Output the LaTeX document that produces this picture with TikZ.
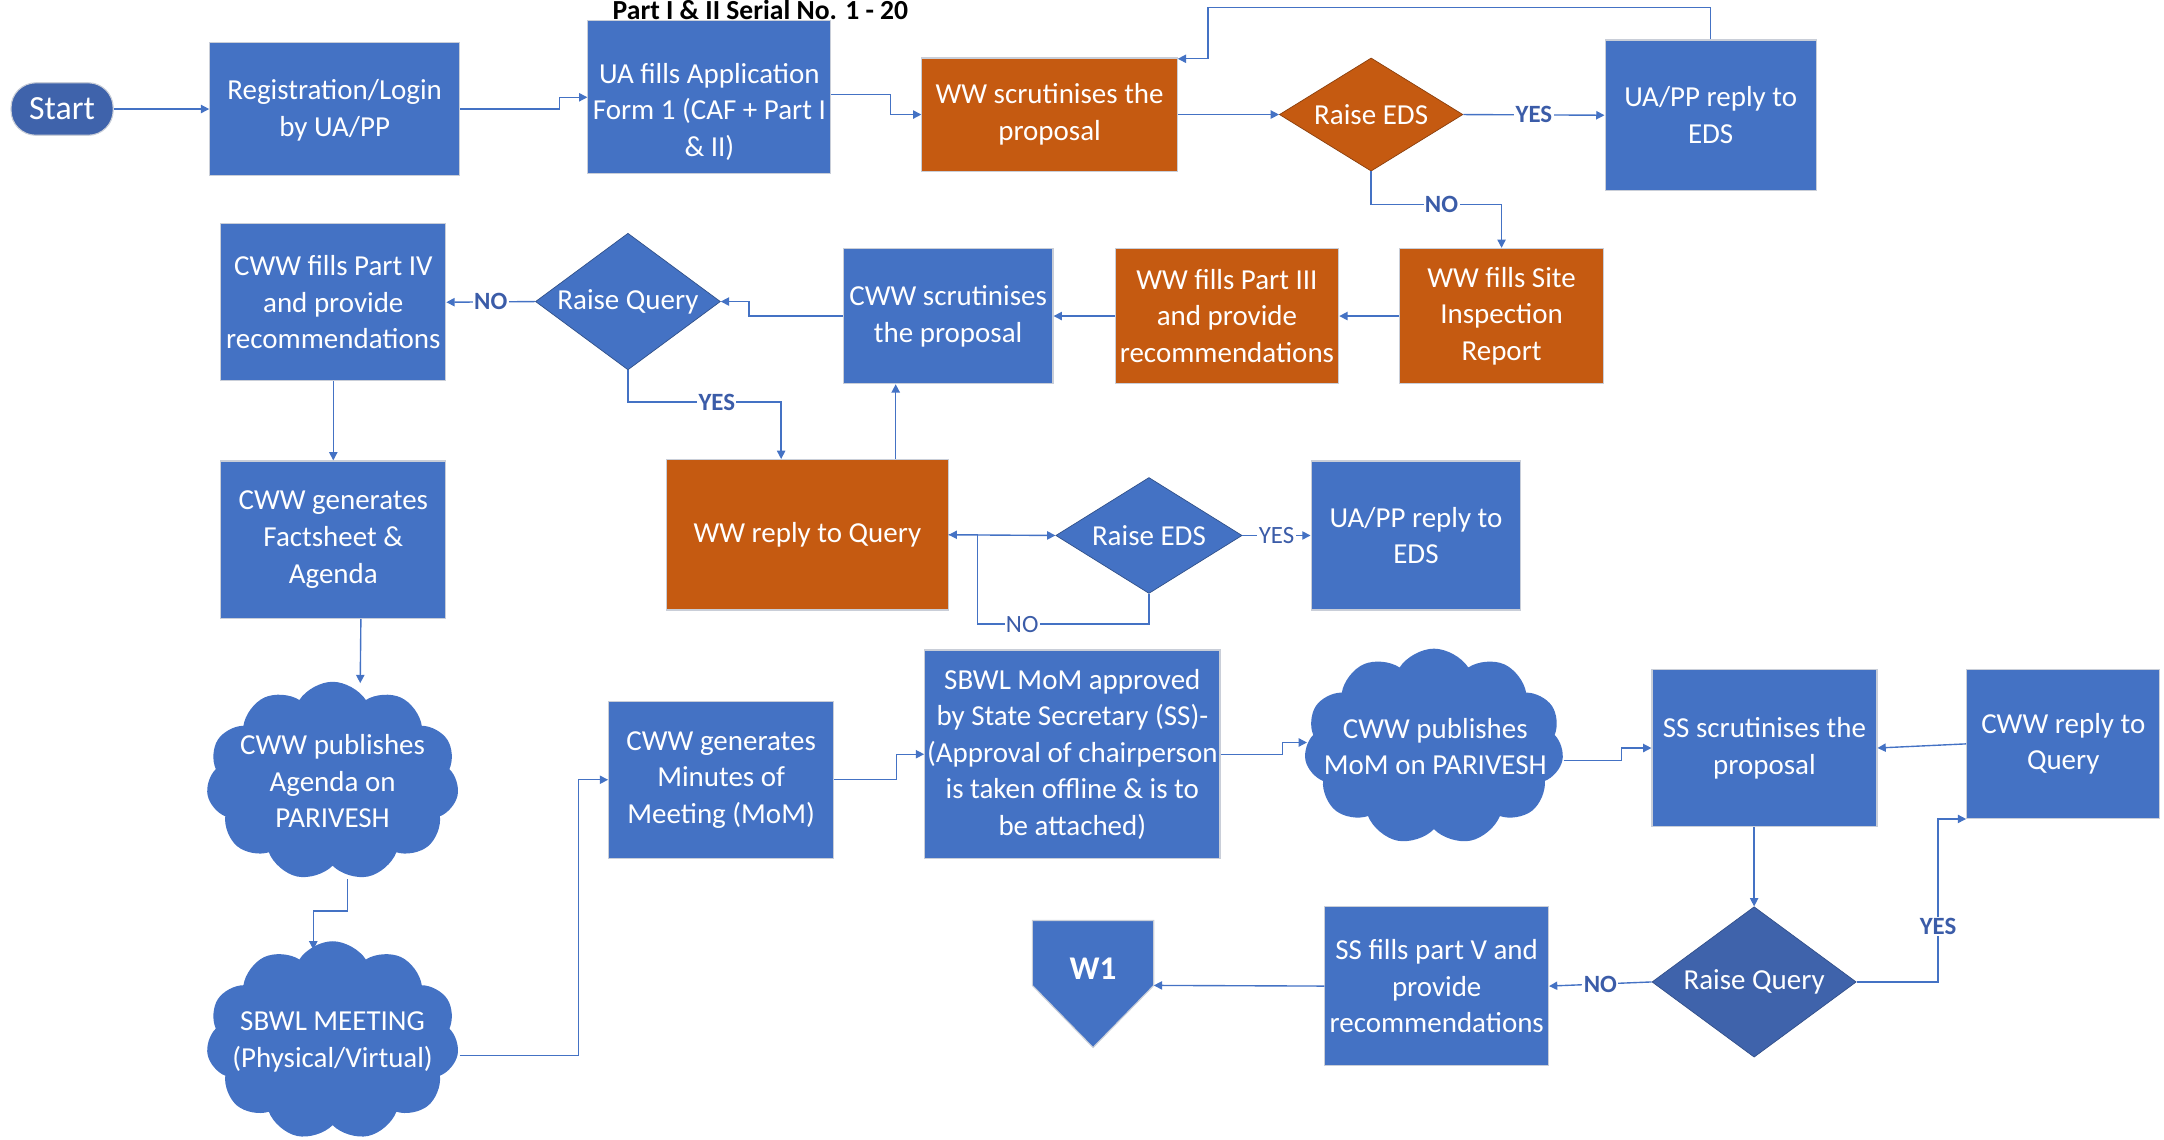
\documentclass[tikz,border=0pt]{standalone}
\usepackage{fontspec}
\setmainfont{Carlito}
\usetikzlibrary{shapes.geometric,shapes.symbols,arrows.meta,calc}
\definecolor{cblue}{HTML}{4472C4}
\definecolor{corange}{HTML}{C55A11}
\definecolor{cdark}{HTML}{3F63AB}
\definecolor{clab}{HTML}{3B5CA8}
\definecolor{cedge}{HTML}{C9CED8}
\begin{document}
\begin{tikzpicture}[x=1pt,y=-1pt,
 every node/.style={font=\fontsize{21}{26.5}\selectfont, text=white, align=center},
 bx/.style={rectangle, fill=cblue, draw=cedge, line width=0.8pt, inner sep=0pt},
 ob/.style={bx, fill=corange},
 dm/.style={diamond, fill=cblue, draw=cblue!70!black, line width=0.5pt, inner sep=0pt},
 od/.style={dm, fill=corange, draw=corange!70!black},
 cl/.style={cloud, cloud puffs=11, cloud puff arc=115, fill=cblue, draw=none, inner sep=0pt},
 arr/.style={draw=cblue, line width=1pt, -{Triangle[length=6pt,width=6pt]}},
 lb/.style={fill=white, text=clab, font=\fontsize{18}{20}\selectfont\bfseries, inner sep=1pt},
 lr/.style={fill=white, text=clab, font=\fontsize{18}{20}\selectfont, inner sep=1pt},
]
\useasboundingbox (0,0) rectangle (1568,826);

% title
\node[text=black, font=\fontsize{20}{24}\selectfont\bfseries, anchor=base] (ptitle) at (551,14) {Part I \& II Serial No. 1 - 20};

% row 1
\node[bx, fill=cdark, rounded corners=18pt, minimum width=74, minimum height=38, font=\fontsize{24.5}{28}\selectfont] (start) at (45,79) {Start};
\node[bx, minimum width=181, minimum height=96] (reg) at (242.5,79) {};
\node (regt) at (242.5,80) {Registration/Login\\by UA/PP};
\node[bx, minimum width=176, minimum height=111] (ua) at (514,70.5) {};
\node (uat) at (514,81) {UA fills Application\\Form 1 (CAF + Part I\\\& II)};
\node[ob, minimum width=185, minimum height=82] (ww) at (760.5,83) {WW scrutinises the\\proposal};
\node[od, minimum width=133, minimum height=82, aspect=1.6] (eds1) at (993.5,83) {Raise EDS};
\node[bx, minimum width=153, minimum height=109] (uapp1) at (1239.5,83.5) {UA/PP reply to\\EDS};

% row 2
\node[ob, minimum width=148, minimum height=98] (site) at (1088,229) {WW fills Site\\Inspection\\Report};
\node[ob, minimum width=162, minimum height=98] (p3) at (889,229) {WW fills Part III\\and provide\\recommendations};
\node[bx, minimum width=152, minimum height=98] (cwws) at (687,229) {CWW scrutinises\\the proposal};
\node[dm, minimum width=134, minimum height=99, aspect=1.35] (rq1) at (455,218.5) {Raise Query};
\node[bx, minimum width=163, minimum height=114] (p4) at (241.5,219) {CWW fills Part IV\\and provide\\recommendations};

% row 3
\node[ob, minimum width=204, minimum height=109] (wwr) at (585,387.5) {WW reply to Query};
\node[dm, minimum width=135, minimum height=84, aspect=1.6] (eds2) at (832.5,388) {Raise EDS};
\node[bx, minimum width=152, minimum height=108] (uapp2) at (1026,388) {UA/PP reply to\\EDS};
\node[bx, minimum width=163, minimum height=114] (fact) at (241.5,391) {CWW generates\\Factsheet \&\\Agenda};

% clouds
\node[cl, minimum width=183, minimum height=144] (c1) at (241,566) {};
\node (c1t) at (241,566) {CWW publishes\\Agenda on\\PARIVESH};
\node[cl, minimum width=183, minimum height=144] (c2) at (241,754) {};
\node (c2t) at (241,755) {SBWL MEETING\\(Physical/Virtual)};
\node[cl, minimum width=188, minimum height=142] (c3) at (1039,541) {};
\node (c3t) at (1040,541) {CWW publishes\\MoM on PARIVESH};

% row 4
\node[bx, minimum width=163, minimum height=114] (mom) at (522.5,565) {CWW generates\\Minutes of\\Meeting (MoM)};
\node[bx, minimum width=214, minimum height=151] (sbwl) at (777,546.5) {SBWL MoM approved\\by State Secretary (SS)-\\(Approval of chairperson\\is taken offline \& is to\\be attached)};
\node[bx, minimum width=163, minimum height=114] (ssscr) at (1278.5,542) {SS scrutinises the\\proposal};
\node[bx, minimum width=140, minimum height=108] (cwwr) at (1495,539) {CWW reply to\\Query};

% row 5
\node[dm, fill=cdark, draw=cdark!80!black, minimum width=148, minimum height=109, aspect=1.36] (rq2) at (1271,711.5) {Raise Query};
\node[bx, minimum width=162, minimum height=115] (ssf) at (1041,714.5) {SS fills part V and\\provide\\recommendations};
\filldraw[fill=cblue, draw=cedge, line width=0.8pt] (748,667) -- (836,667) -- (836,714) -- (792,759) -- (748,714) -- cycle;
\node[font=\fontsize{24}{26}\selectfont\bfseries] (w1) at (792,702) {W1};
\coordinate (w1in) at (836,714);

% connectors
\draw[arr] (start.east) -- (reg.west);
\draw[arr] (reg.east) -- ++(72,0) |- (ua.west);
\draw[arr] ([yshift=2pt]ua.east) -- ++(43,0) |- (ww.west);
\draw[arr] (ww.east) -- (eds1.west);
\draw[arr] (eds1.east) -- node[lb]{YES} (uapp1.west);
\draw[arr] (uapp1.north) -- ++(0,-23) -| ($(ww.north east)+(22,1)$) -- ($(ww.north east)+(0,1)$);
\draw[arr] (eds1.south) -- ++(0,24) -| node[lb, pos=0.27]{NO} (site.north);

\draw[arr] (site.west) -- (p3.east);
\draw[arr] (p3.west) -- (cwws.east);
\draw[arr] (cwws.west) -- ++(-68,0) |- (rq1.east);
\draw[arr] (rq1.west) -- node[lb]{NO} (p4.east);
\draw[arr] (rq1.south) -- ++(0,23) -| node[lb, pos=0.29]{YES} ($(wwr.north)+(-19,0)$);
\coordinate (q) at ($(wwr.north)+(64,0)$);
\draw[arr] (q) -- (q |- cwws.south);

\draw[arr] (wwr.east) -- (eds2.west);
\draw[arr] (eds2.south) -- ++(0,22) -| node[lr, pos=0.37]{NO} ($(wwr.east)+(21,0)$) -- (wwr.east);
\draw[arr] (eds2.east) -- node[lr]{YES} (uapp2.west);

\draw[arr] (p4.south) -- (fact.north);
\draw[arr] ($(fact.south)+(20,0)$) -- ($(c1.center)+(20,-71)$);
\draw[arr] ($(c1.center)+(11,71)$) -- ++(0,23) -| ($(c2.center)+(-14,-66)$);
\draw[arr] ($(c2.center)+(92,11)$) -- ++(86,0) |- (mom.west);
\draw[arr] (mom.east) -- ++(45,0) |- (sbwl.west);
\draw[arr] (sbwl.east) -- ++(45,0) |- ($(c3.center)+(-92,-3)$);
\draw[arr] ($(c3.center)+(94,10)$) -- ++(42,0) |- (ssscr.west);
\draw[arr] (cwwr.west) -- (ssscr.east);
\draw[arr] (rq2.north |- ssscr.south) -- (rq2.north);
\draw[arr] (rq2.east) -- ++(59,0) |- node[lb, pos=0.17]{YES} (cwwr.south west);
\draw[arr] (rq2.west) -- node[lb]{NO} (ssf.east);
\draw[arr] (ssf.west) -- (w1in);
\end{tikzpicture}
\end{document}
